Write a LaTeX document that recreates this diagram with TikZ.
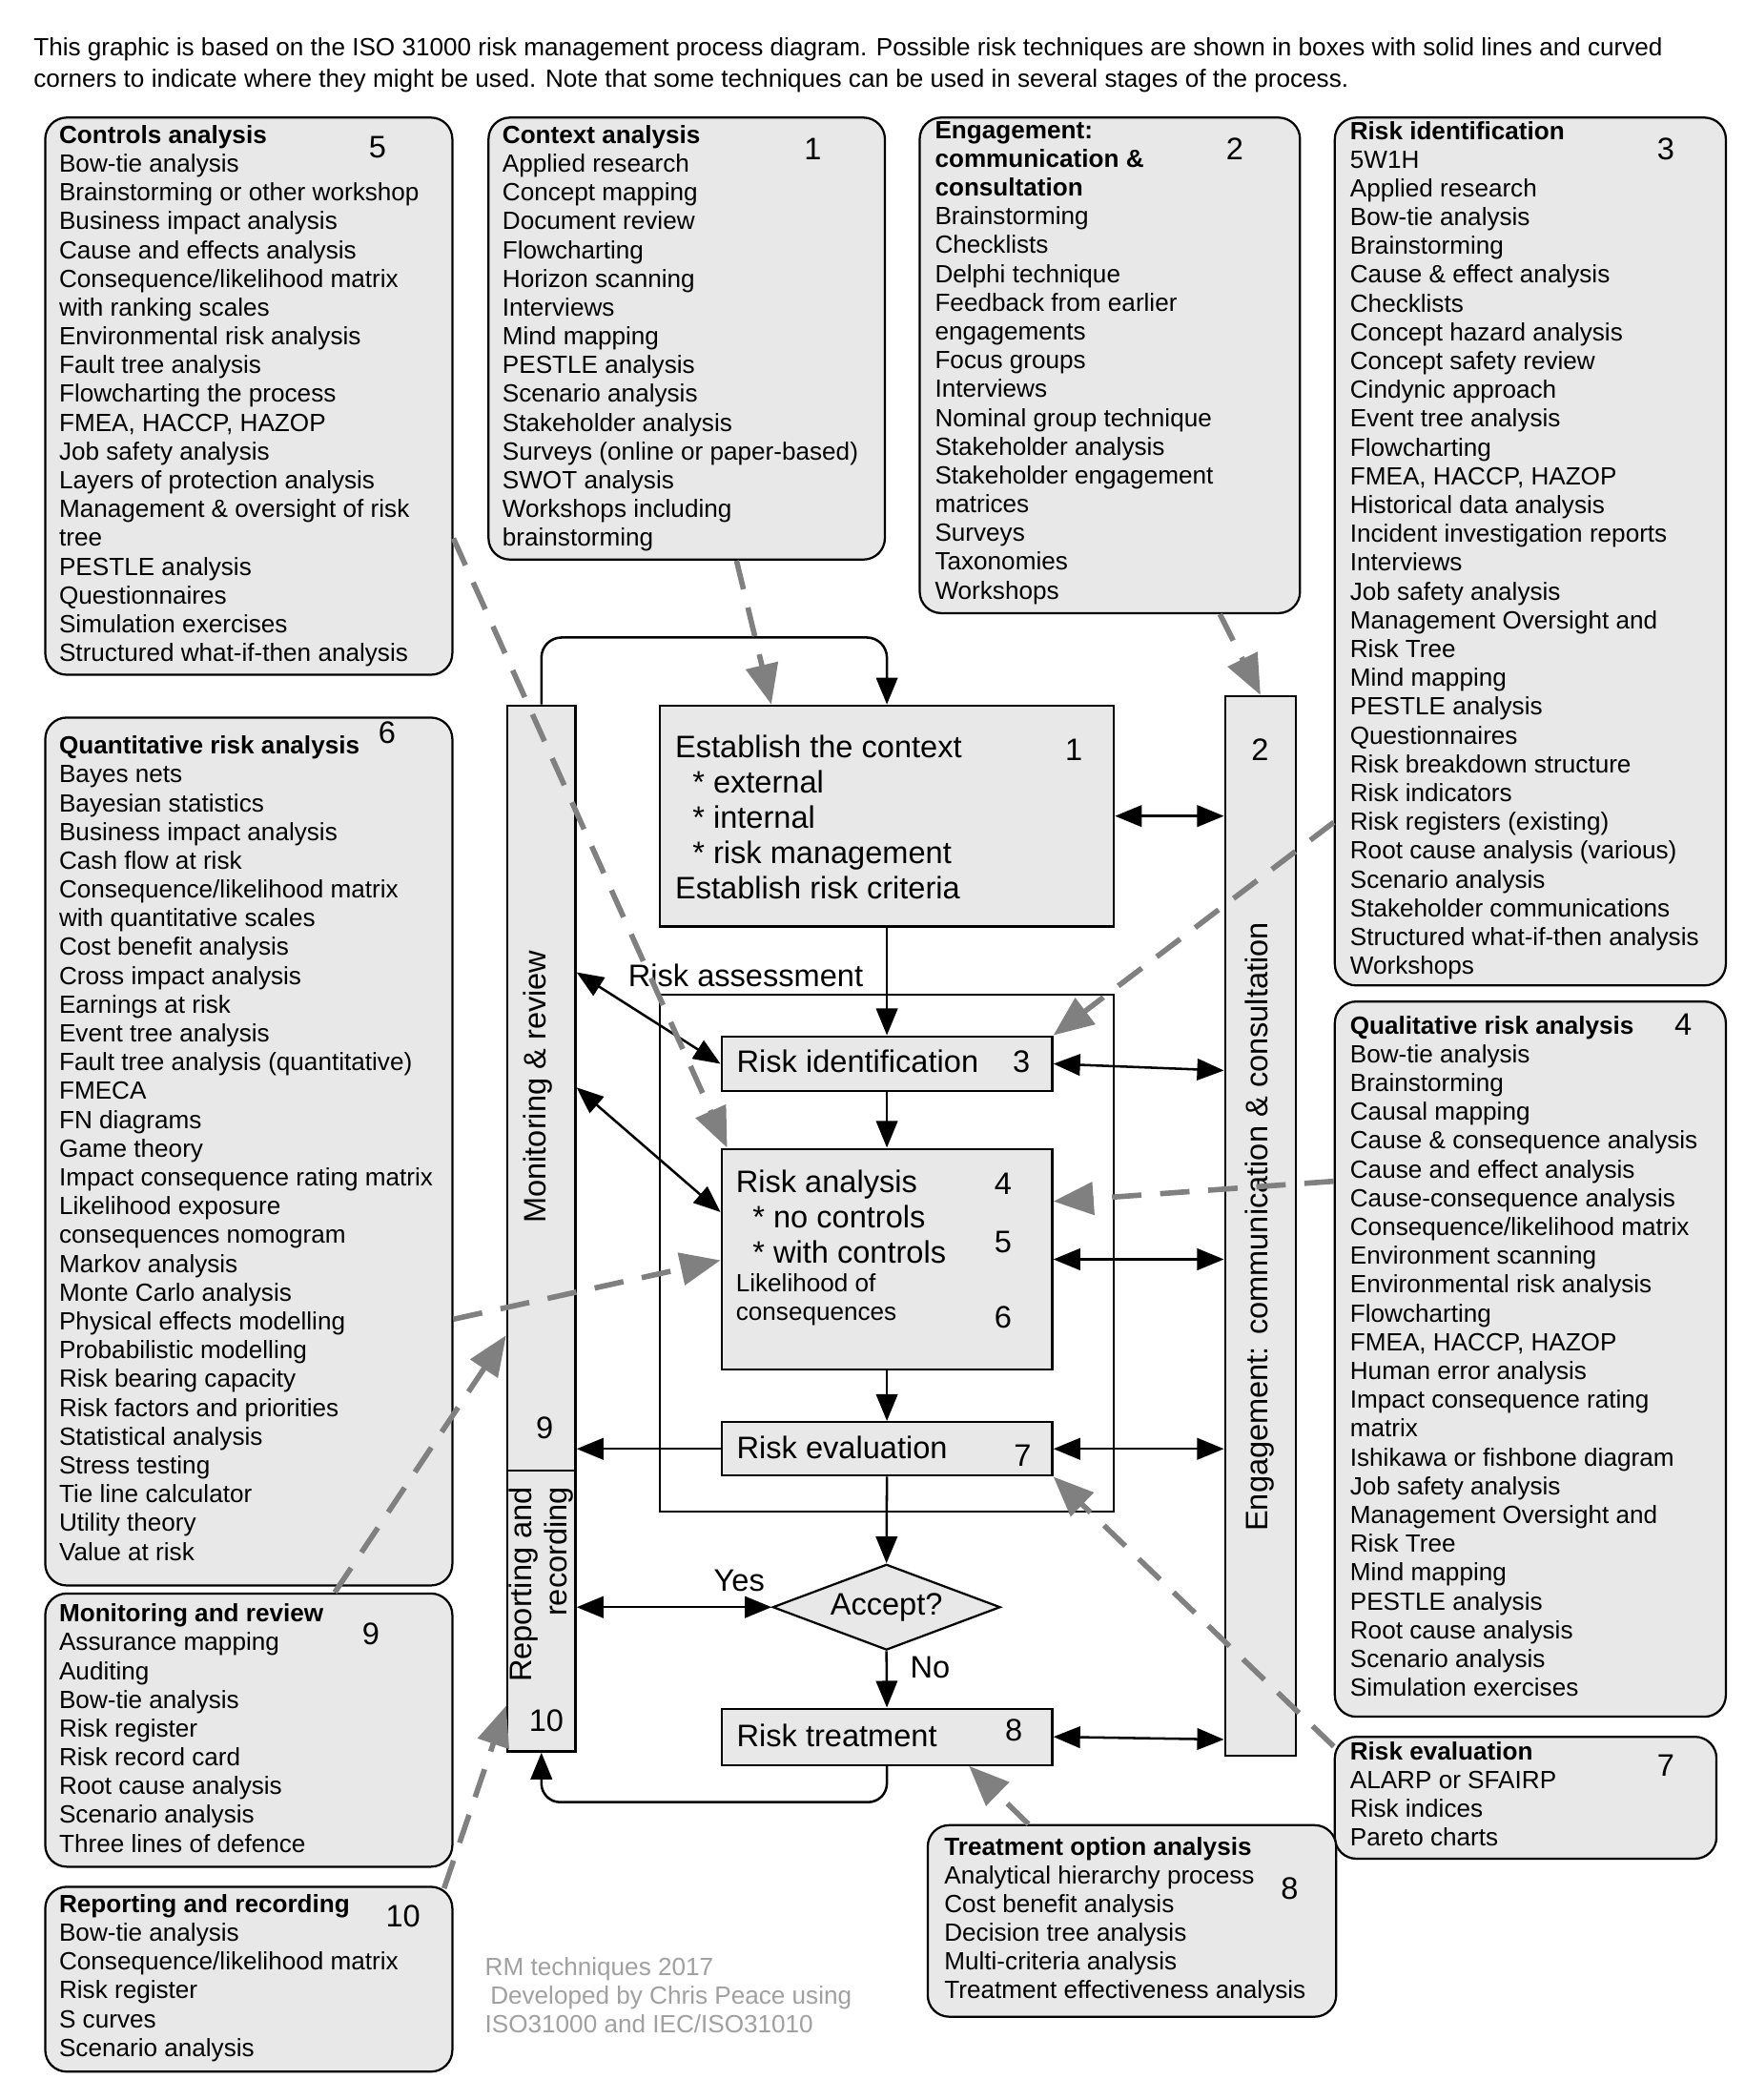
\documentclass[tikz,border=0pt]{standalone}
\usepackage{fontspec}
\setmainfont{Liberation Sans}
\usepackage{xcolor}
\definecolor{boxfill}{RGB}{232,232,232}
\definecolor{hintgray}{RGB}{128,128,128}
\definecolor{notegray}{RGB}{160,160,160}
\usetikzlibrary{arrows.meta,positioning,shapes.geometric,calc}
\tikzset{
  techbox/.style={draw,rounded corners=16pt,fill=boxfill,line width=1.6pt,%
    anchor=north west,inner sep=0pt},
  techtext/.style={anchor=north west,inner sep=0pt,align=left,%
    font=\fontsize{18.6}{21.5}\selectfont},
  procbox/.style={draw,fill=boxfill,line width=1.6pt,anchor=north west,inner sep=0pt},
  ptext/.style={inner sep=0pt,font=\fontsize{23.2}{26.3}\selectfont},
  num/.style={inner sep=0pt,font=\fontsize{23.2}{26}\selectfont},
  flow/.style={-{Triangle[length=20pt,width=16pt]},line width=1.8pt},
  both/.style={{Triangle[length=20pt,width=16pt]}-{Triangle[length=20pt,width=16pt]},line width=1.8pt},
  hint/.style={-{Triangle[length=30pt,width=24pt]},line width=4pt,draw=hintgray,%
    dash pattern=on 22pt off 14pt},
}

\begin{document}
\begin{tikzpicture}[x=1pt,y=-1pt]
\useasboundingbox (0,0) rectangle (1303,1568);
\node[techtext,font=\fontsize{18.6}{23}\selectfont] (intro) at (25,28.3) {This graphic is based on the ISO 31000 risk management process diagram. Possible risk techniques are shown in boxes with solid lines and curved\\corners to indicate where they might be used. Note that some techniques can be used in several stages of the process.};

% technique boxes
\node[techbox,minimum width=304pt,minimum height=416pt] (ctrlbox) at (33,87) {};
\node[techtext] at ([xshift=11pt,yshift=-6.3pt]ctrlbox.north west) {\textbf{Controls analysis}\\Bow-tie analysis\\Brainstorming or other workshop\\Business impact analysis\\Cause and effects analysis\\Consequence/likelihood matrix\\with ranking scales\\Environmental risk analysis\\Fault tree analysis\\Flowcharting the process\\FMEA, HACCP, HAZOP\\Job safety analysis\\Layers of protection analysis\\Management \& oversight of risk\\tree\\PESTLE analysis\\Questionnaires\\Simulation exercises\\Structured what-if-then analysis};
\node[num] at (282,110) {5};

\node[techbox,minimum width=296pt,minimum height=330pt] (ctxbox) at (364,87) {};
\node[techtext] at ([xshift=11pt,yshift=-6.3pt]ctxbox.north west) {\textbf{Context analysis}\\Applied research\\Concept mapping\\Document review\\Flowcharting\\Horizon scanning\\Interviews\\Mind mapping\\PESTLE analysis\\Scenario analysis\\Stakeholder analysis\\Surveys (online or paper-based)\\SWOT analysis\\Workshops including\\brainstorming};
\node[num] at (607,111) {1};

\node[techbox,minimum width=284pt,minimum height=370pt] (engbox) at (686,87) {};
\node[techtext] at ([xshift=12pt,yshift=-3.3pt]engbox.north west) {\textbf{Engagement:}\\\textbf{communication \&}\\\textbf{consultation}\\Brainstorming\\Checklists\\Delphi technique\\Feedback from earlier\\engagements\\Focus groups\\Interviews\\Nominal group technique\\Stakeholder analysis\\Stakeholder engagement\\matrices\\Surveys\\Taxonomies\\Workshops};
\node[num] at (922,111) {2};

\node[techbox,minimum width=292pt,minimum height=648pt] (idbox) at (996,87) {};
\node[techtext] at ([xshift=12pt,yshift=-3.3pt]idbox.north west) {\textbf{Risk identification}\\5W1H\\Applied research\\Bow-tie analysis\\Brainstorming\\Cause \& effect analysis\\Checklists\\Concept hazard analysis\\Concept safety review\\Cindynic approach\\Event tree analysis\\Flowcharting\\FMEA, HACCP, HAZOP\\Historical data analysis\\Incident investigation reports\\Interviews\\Job safety analysis\\Management Oversight and\\Risk Tree\\Mind mapping\\PESTLE analysis\\Questionnaires\\Risk breakdown structure\\Risk indicators\\Risk registers (existing)\\Root cause analysis (various)\\Scenario analysis\\Stakeholder communications\\Structured what-if-then analysis\\Workshops};
\node[num] at (1244,111) {3};

\node[techbox,minimum width=304pt,minimum height=648pt] (quantbox) at (33,535) {};
\node[techtext] at ([xshift=11pt,yshift=-14.3pt]quantbox.north west) {\textbf{Quantitative risk analysis}\\Bayes nets\\Bayesian statistics\\Business impact analysis\\Cash flow at risk\\Consequence/likelihood matrix\\with quantitative scales\\Cost benefit analysis\\Cross impact analysis\\Earnings at risk\\Event tree analysis\\Fault tree analysis (quantitative)\\FMECA\\FN diagrams\\Game theory\\Impact consequence rating matrix\\Likelihood exposure\\consequences nomogram\\Markov analysis\\Monte Carlo analysis\\Physical effects modelling\\Probabilistic modelling\\Risk bearing capacity\\Risk factors and priorities\\Statistical analysis\\Stress testing\\Tie line calculator\\Utility theory\\Value at risk};
\node[num] at (289,547) {6};

\node[techbox,minimum width=292pt,minimum height=534pt] (qualbox) at (996,747) {};
\node[techtext] at ([xshift=12pt,yshift=-11.3pt]qualbox.north west) {\textbf{Qualitative risk analysis}\\Bow-tie analysis\\Brainstorming\\Causal mapping\\Cause \& consequence analysis\\Cause and effect analysis\\Cause-consequence analysis\\Consequence/likelihood matrix\\Environment scanning\\Environmental risk analysis\\Flowcharting\\FMEA, HACCP, HAZOP\\Human error analysis\\Impact consequence rating\\matrix\\Ishikawa or fishbone diagram\\Job safety analysis\\Management Oversight and\\Risk Tree\\Mind mapping\\PESTLE analysis\\Root cause analysis\\Scenario analysis\\Simulation exercises};
\node[num] at (1257,765) {4};

\node[techbox,minimum width=304pt,minimum height=204pt] (monbox) at (33,1189) {};
\node[techtext] at ([xshift=11pt,yshift=-8.3pt]monbox.north west) {\textbf{Monitoring and review}\\Assurance mapping\\Auditing\\Bow-tie analysis\\Risk register\\Risk record card\\Root cause analysis\\Scenario analysis\\Three lines of defence};
\node[num] at (277,1220) {9};

\node[techbox,minimum width=304pt,minimum height=138pt] (repbox) at (33,1408) {};
\node[techtext] at ([xshift=11pt,yshift=-6.3pt]repbox.north west) {\textbf{Reporting and recording}\\Bow-tie analysis\\Consequence/likelihood matrix\\Risk register\\S curves\\Scenario analysis};
\node[num] at (301,1431) {10};

\node[techbox,minimum width=285pt,minimum height=91pt] (evalbox) at (996,1296) {};
\node[techtext] at ([xshift=12pt,yshift=-4.3pt]evalbox.north west) {\textbf{Risk evaluation}\\ALARP or SFAIRP\\Risk indices\\Pareto charts};
\node[num] at (1244,1318) {7};

\node[techbox,minimum width=305pt,minimum height=143pt] (treatbox) at (692,1362) {};
\node[techtext] at ([xshift=13pt,yshift=-9.3pt]treatbox.north west) {\textbf{Treatment option analysis}\\Analytical hierarchy process\\Cost benefit analysis\\Decision tree analysis\\Multi-criteria analysis\\Treatment effectiveness analysis};
\node[num] at (963,1410) {8};

% process
\node[procbox,minimum width=51pt,minimum height=571pt] (monbar) at (378,526) {};
\node[procbox,minimum width=51pt,minimum height=210pt] (repbar) at (378,1097) {};
\node[procbox,minimum width=53pt,minimum height=791pt] (engbar) at (914,519) {};
\node[ptext,rotate=90] at (401.6,811.5) {Monitoring \& review};
\node[ptext,rotate=90,align=right,anchor=east] at (404,1110) {Reporting and\\recording};
\node[ptext,rotate=90] at (941,916) {Engagement: communication \& consultation};
\node[num] at (406.8,1066) {9};
\node[num] at (408,1285) {10};
\node[num] at (941,560) {2};

\node[procbox,minimum width=339pt,minimum height=165pt] (context) at (492,526) {};
\node[ptext,anchor=north west,align=left] at ([xshift=12pt,yshift=-22.7pt]context.north west) {Establish the context\\\hspace*{13pt}* external\\\hspace*{13pt}* internal\\\hspace*{13pt}* risk management\\Establish risk criteria};
\node[num] at (802,560) {1};

\node[draw,line width=1.6pt,anchor=north west,inner sep=0pt,minimum width=339pt,minimum height=386pt] (assess) at (492,742) {};
\node[ptext,anchor=base west] at (469,736.3) {Risk assessment};

\node[procbox,minimum width=247pt,minimum height=41pt] (identify) at (538,773) {};
\node[ptext,anchor=base west] at ([xshift=12pt,yshift=-28pt]identify.north west) {Risk identification};
\node[num] at (762.7,792.6) {3};

\node[procbox,minimum width=247pt,minimum height=165pt] (analyse) at (538,857) {};
\node[ptext,anchor=north west,align=left] at ([xshift=11.4pt,yshift=-16.7pt]analyse.north west) {Risk analysis\\\hspace*{12.5pt}* no controls\\\hspace*{12.5pt}* with controls};
\node[techtext] at ([xshift=11.4pt,yshift=-94pt]analyse.north west) {Likelihood of\\consequences};
\node[num] at (749,883.6) {4};
\node[num] at (749,927.5) {5};
\node[num] at (749,983.7) {6};

\node[procbox,minimum width=247pt,minimum height=40pt] (evaluate) at (538,1061) {};
\node[ptext,anchor=base west] at ([xshift=12pt,yshift=-28.3pt]evaluate.north west) {Risk evaluation};
\node[num] at (763.7,1086.6) {7};

\node[draw,fill=boxfill,line width=1.6pt,diamond,aspect=2.66,inner sep=0pt,minimum width=170pt,minimum height=64pt,font=\fontsize{23.2}{26}\selectfont] (accept) at (662,1200) {Accept?};
\node[ptext] (yes) at (552,1180) {Yes};
\node[ptext] (no) at (694.5,1245) {No};

\node[procbox,minimum width=247pt,minimum height=42pt] (treat) at (538,1275) {};
\node[ptext,anchor=base west] at ([xshift=12pt,yshift=-29.3pt]treat.north west) {Risk treatment};
\node[num] at (757,1291.6) {8};

% solid connectors
\draw[flow,rounded corners=15pt] (monbar.north) |- ([yshift=50pt]context.north) -- (context.north);
\draw[flow] (context.south) -- (identify.north);
\draw[flow] (identify.south) -- (analyse.north);
\draw[flow] (analyse.south) -- (evaluate.north);
\draw[flow] (evaluate.south) -- (accept.north);
\draw[flow] (accept.south) -- (treat.north);
\draw[flow,rounded corners=14pt] (treat.south) |- ([yshift=-37pt]repbar.south) -- (repbar.south);
\draw[both] (accept.west) -- (accept.west -| repbar.east);
\draw[both] (context.east) -- (context.east -| engbar.west);
\draw[both] ([yshift=-200pt]monbar.north east) -- (identify.west);
\draw[both] ([yshift=-286pt]monbar.north east) -- ([yshift=-48pt]analyse.north west);
\draw[flow] (evaluate.west) -- (evaluate.west -| monbar.east);
\draw[both] (identify.east) -- ([yshift=-5pt]identify.east -| engbar.west);
\draw[both] (analyse.east) -- (analyse.east -| engbar.west);
\draw[both] (evaluate.east) -- (evaluate.east -| engbar.west);
\draw[both] (treat.east) -- ([yshift=-2pt]treat.east -| engbar.west);

% where the techniques apply
\draw[hint] ([xshift=186pt]ctxbox.south west) -- ([xshift=84pt]context.north west);
\draw[hint] ([xshift=225pt]engbox.south west) -- (engbar.north);
\draw[hint] ([yshift=-527pt]idbox.north west) -- (identify.north east);
\draw[hint] ([yshift=-315pt]ctrlbox.north east) -- ([xshift=5pt]analyse.north west);
\draw[hint] ([yshift=-135pt]qualbox.north west) -- ([yshift=-40pt]analyse.north east);
\draw[hint] ([yshift=-450pt]quantbox.north east) -- ([yshift=-84pt]analyse.north west);
\draw[hint] ([xshift=217pt]monbox.north west) -- ([yshift=-471pt]monbar.north west);
\draw[hint] ([xshift=-7pt,yshift=-2pt]repbox.north east) -- ([yshift=35pt]repbar.south west);
\draw[hint] ([yshift=-8pt]evalbox.north west) -- (evaluate.south east);
\draw[hint] ([xshift=76pt]treatbox.north west) -- ([xshift=-63pt]treat.south east);

\node[techtext,text=notegray] (credit) at (362,1461.3) {RM techniques 2017\\\hspace*{4pt}Developed by Chris Peace using\\ISO31000 and IEC/ISO31010};
\end{tikzpicture}
\end{document}
